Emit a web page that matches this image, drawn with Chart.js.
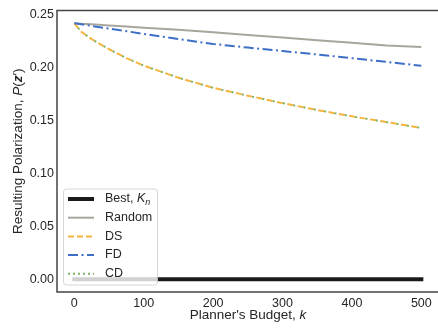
<!DOCTYPE html>
<html><head><meta charset="utf-8">
<script src="https://cdn.jsdelivr.net/npm/chart.js@4"></script>
<style>html,body{margin:0;padding:0;background:#fff}</style>
</head><body>
<div style="width:438px;height:328px"><canvas id="c" width="438" height="328"></canvas></div>
<script>
const budgets    = [0, 10, 25, 50, 75, 100, 150, 200, 250, 300, 350, 400, 450, 500];
const bestVals   = [0, 0, 0, 0, 0, 0, 0, 0, 0, 0, 0, 0, 0, 0];
const randomVals = [0.242, 0.2415, 0.241, 0.240, 0.239, 0.2378, 0.236, 0.2335, 0.231, 0.2285, 0.226, 0.2235, 0.221, 0.2195];
const dsVals     = [0.242, 0.234, 0.227, 0.2175, 0.209, 0.202, 0.1905, 0.181, 0.1735, 0.1665, 0.160, 0.154, 0.1485, 0.143];
const fdVals     = [0.242, 0.241, 0.2395, 0.237, 0.2345, 0.232, 0.227, 0.2225, 0.219, 0.2158, 0.2125, 0.209, 0.2055, 0.2018];
const cdVals     = [0.242, 0.234, 0.227, 0.2175, 0.209, 0.202, 0.1905, 0.181, 0.1735, 0.1665, 0.160, 0.154, 0.1485, 0.143];
const xTicks = [0, 100, 200, 300, 400, 500];
const yTicks = [0.00, 0.05, 0.10, 0.15, 0.20, 0.25];
const seriesNames = ['Best, K_n', 'Random', 'DS', 'FD', 'CD'];

const FONT = "'Liberation Sans', Arial, sans-serif";
const TXT = '#262626';
const COLORS = {best:'#1a1a1a', random:'#a8a59c', ds:'#f6b33d', fd:'#3e6fc7', cd:'#7fb360'};
const DASH = {ds:[6,4.5], fd:[10,3.5,2,3.5], cd:[2,8.5]};
const DASH_OFFSET = {ds:0, fd:0, cd:-6};

function pts(vals){ return budgets.map((k,i)=>({x:k, y:vals[i]})); }

function drawPieces(ctx, pieces, x, y){
  let cx = x;
  for (const p of pieces){
    ctx.font = p.font;
    ctx.fillText(p.t, cx, y + (p.dy||0));
    cx += ctx.measureText(p.t).width;
  }
  return cx - x;
}
function measurePieces(ctx, pieces){
  let w = 0;
  for (const p of pieces){ ctx.font = p.font; w += ctx.measureText(p.t).width; }
  return w;
}

const extras = {
  id:'extras',
  afterDatasetsDraw(chart){
    const ctx = chart.ctx, a = chart.chartArea;
    ctx.save();
    ctx.strokeStyle = '#444';
    ctx.lineWidth = 1.5;
    ctx.beginPath();
    ctx.moveTo(a.right+2, a.top); ctx.lineTo(a.left, a.top);
    ctx.lineTo(a.left, a.bottom); ctx.lineTo(a.right+2, a.bottom);
    ctx.stroke();
    ctx.restore();
  },
  afterDraw(chart){
    const ctx = chart.ctx, a = chart.chartArea;
    ctx.save();
    // legend box
    const bx = 63.5, by = 189, bw = 94, bh = 96, r = 3;
    ctx.beginPath();
    ctx.moveTo(bx+r, by); ctx.lineTo(bx+bw-r, by); ctx.quadraticCurveTo(bx+bw, by, bx+bw, by+r);
    ctx.lineTo(bx+bw, by+bh-r); ctx.quadraticCurveTo(bx+bw, by+bh, bx+bw-r, by+bh);
    ctx.lineTo(bx+r, by+bh); ctx.quadraticCurveTo(bx, by+bh, bx, by+bh-r);
    ctx.lineTo(bx, by+r); ctx.quadraticCurveTo(bx, by, bx+r, by);
    ctx.closePath();
    ctx.fillStyle = 'rgba(255,255,255,0.8)';
    ctx.fill();
    ctx.strokeStyle = 'rgba(204,204,204,0.8)';
    ctx.lineWidth = 1;
    ctx.stroke();
    const rows = [199, 217.7, 236.4, 255, 273.7];
    const keys = ['best','random','ds','fd','cd'];
    const widths = [4, 2, 2, 2, 2];
    const legDash = {ds:[6,3], fd:[10,3.5,2,3.5], cd:[2,3]};
    ctx.textBaseline = 'middle';
    keys.forEach((k,i)=>{
      ctx.beginPath();
      ctx.setLineDash(legDash[k] || []);
      ctx.strokeStyle = COLORS[k];
      ctx.lineWidth = widths[i];
      ctx.lineCap = 'butt';
      ctx.moveTo(68, rows[i]); ctx.lineTo(94, rows[i]);
      ctx.stroke();
      ctx.setLineDash([]);
      const name = seriesNames[i];
      ctx.fillStyle = TXT;
      if (name === 'Best, K_n'){
        drawPieces(ctx, [
          {t:'Best, ', font:'12.5px '+FONT},
          {t:'K', font:'italic 12.5px '+FONT},
          {t:'n', font:'italic 9px '+FONT, dy:3}
        ], 105, rows[i]);
      } else {
        ctx.font = '12.5px '+FONT;
        ctx.fillText(name, 105, rows[i]);
      }
    });
    // x title
    const xp = [
      {t:"Planner's Budget, ", font:'13.5px '+FONT},
      {t:'k', font:'italic 13.5px '+FONT}
    ];
    const xw = measurePieces(ctx, xp);
    ctx.textBaseline = 'alphabetic';
    ctx.fillStyle = TXT;
    drawPieces(ctx, xp, (a.left + 439)/2 - xw/2, 319);
    // y title
    const yp = [
      {t:'Resulting Polarization, ', font:'13.5px '+FONT},
      {t:'P', font:'italic 13.5px '+FONT},
      {t:'(', font:'13.5px '+FONT},
      {t:'z', font:'bold italic 13.5px '+FONT},
      {t:'\u2032', font:'13.5px '+FONT},
      {t:')', font:'13.5px '+FONT}
    ];
    const yw = measurePieces(ctx, yp);
    ctx.translate(22, (a.top + a.bottom)/2);
    ctx.rotate(-Math.PI/2);
    drawPieces(ctx, yp, -yw/2, 0);
    ctx.restore();
  }
};

new Chart(document.getElementById('c').getContext('2d'), {
  type: 'line',
  data: { datasets: [
    {label: seriesNames[0], data: pts(bestVals),   borderColor: COLORS.best,   borderWidth: 4, order: 4, borderCapStyle:'square'},
    {label: seriesNames[1], data: pts(randomVals), borderColor: COLORS.random, borderWidth: 2, order: 3},
    {label: seriesNames[2], data: pts(dsVals),     borderColor: COLORS.ds,     borderWidth: 2, borderDash: DASH.ds, borderDashOffset: DASH_OFFSET.ds, order: 2},
    {label: seriesNames[3], data: pts(fdVals),     borderColor: COLORS.fd,     borderWidth: 2, borderDash: DASH.fd, borderDashOffset: DASH_OFFSET.fd, order: 1},
    {label: seriesNames[4], data: pts(cdVals),     borderColor: COLORS.cd,     borderWidth: 2, borderDash: DASH.cd, borderDashOffset: DASH_OFFSET.cd, order: 0}
  ]},
  options: {
    responsive: false, animation: false, devicePixelRatio: 1,
    layout: {padding: {top: 7, right: 0, bottom: 0, left: 0}},
    elements: {point: {radius: 0}, line: {tension: 0, fill: false}},
    plugins: {legend: {display: false}, tooltip: {enabled: false}, title:{display:false}},
    scales: {
      x: {
        type: 'linear', min: -25, max: 524,
        grid: {display: false, drawTicks: false},
        border: {display: false},
        ticks: {padding: 4, color: TXT, font: {family: FONT, size: 12.5}, maxRotation: 0, callback: v => String(v)},
        afterBuildTicks: s => { s.ticks = xTicks.map(v => ({value: v})); },
        afterFit: s => { s.height = 36; }
      },
      y: {
        type: 'linear', min: -0.0121, max: 0.2541,
        grid: {display: false, drawTicks: false},
        border: {display: false},
        ticks: {padding: 3, color: TXT, font: {family: FONT, size: 12.5}, callback: v => Number(v).toFixed(2)},
        afterBuildTicks: s => { s.ticks = yTicks.map(v => ({value: v})); },
        afterFit: s => { s.width = 57; }
      }
    }
  },
  plugins: [extras]
});
</script>
</body></html>
